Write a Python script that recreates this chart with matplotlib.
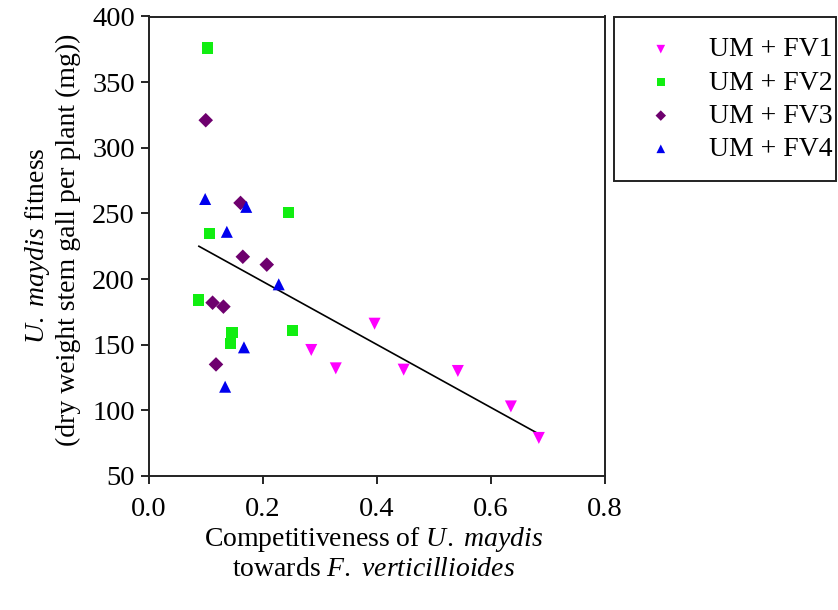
import numpy as np
import matplotlib
matplotlib.use("Agg")
import matplotlib.pyplot as plt
from matplotlib.patches import Rectangle

plt.rcParams['font.family'] = ['Liberation Serif', 'DejaVu Serif']
plt.rcParams['mathtext.fontset'] = 'custom'
plt.rcParams['mathtext.rm'] = 'Liberation Serif'
plt.rcParams['mathtext.it'] = 'Liberation Serif:italic'

fv1_x = [0.285, 0.328, 0.396, 0.447, 0.542, 0.635, 0.684]
fv1_y = [146, 132, 166, 131, 130, 103, 79]
fv2_x = [0.103, 0.107, 0.245, 0.088, 0.146, 0.143, 0.252]
fv2_y = [376, 235, 251, 184, 159, 151, 161]
fv3_x = [0.100, 0.161, 0.165, 0.207, 0.112, 0.131, 0.118]
fv3_y = [321, 258, 217, 211, 182, 179, 135]
fv4_x = [0.099, 0.171, 0.137, 0.228, 0.167, 0.134]
fv4_y = [261, 255, 236, 196, 148, 118]
trend_x = [0.088, 0.684]
trend_y = [225, 82]

labels = ["UM + FV1", "UM + FV2", "UM + FV3", "UM + FV4"]
xticks = [0.0, 0.2, 0.4, 0.6, 0.8]
yticks = [50, 100, 150, 200, 250, 300, 350, 400]

W, H = 838, 610
fig = plt.figure(figsize=(W/100, H/100), dpi=100)
ax = fig.add_axes([148.7/W, 1-476/H, (605-148.7)/W, (476-16.5)/H])

ax.plot(trend_x, trend_y, color='black', lw=1.2, zorder=1)
h1 = ax.scatter(fv1_x, fv1_y, marker='v', s=75, color='#FF00FF', edgecolors='none', zorder=3)
h2 = ax.scatter(fv2_x, fv2_y, marker='s', s=65, color='#11EE11', edgecolors='none', zorder=3)
h3 = ax.scatter(fv3_x, fv3_y, marker='D', s=55, color='#6E006E', edgecolors='none', zorder=3)
h4 = ax.scatter(fv4_x, fv4_y, marker='^', s=75, color='#0000EE', edgecolors='none', zorder=3)

ax.set_xlim(0, 0.8)
ax.set_ylim(50, 400)
ax.set_xticks(xticks)
ax.set_xticklabels([f"{v:.1f}" for v in xticks])
ax.set_yticks(yticks)
ax.tick_params(direction='out', length=6, width=1.2, labelsize=20.5)
ax.tick_params(axis='x', pad=9)
ax.tick_params(axis='y', pad=4)
for s in ax.spines.values():
    s.set_linewidth(1.4)
    s.set_color('#222222')

fs = 20
fig.text(374/W, 1-539/H, r"Competitiveness of $\it{U.\ maydis}$", ha='center', va='center', fontsize=fs)
fig.text(374/W, 1-569/H, r"towards $\it{F.\ verticillioides}$", ha='center', va='center', fontsize=fs)
fig.text(37/W, 1-246/H, r"$\it{U.\ maydis}$ fitness", ha='center', va='center', fontsize=fs, rotation=90)
fig.text(68/W, 1-240/H, "(dry weight stem gall per plant (mg))", ha='center', va='center', fontsize=fs, rotation=90)

fig.patches.append(Rectangle((614/W, 1-181/H), (836-614)/W, (181-17)/H,
                             transform=fig.transFigure, fill=False,
                             edgecolor='#222222', linewidth=1.4))
leg = fig.legend([h1, h2, h3, h4], labels, loc='upper left',
                 bbox_to_anchor=(633/W, 1-37/H), bbox_transform=fig.transFigure,
                 fontsize=fs, frameon=False, borderpad=0,
                 labelspacing=0.28, handletextpad=0.75, markerscale=0.72,
                 borderaxespad=0, handlelength=2.0)

fig.savefig("out.png", dpi=100)
